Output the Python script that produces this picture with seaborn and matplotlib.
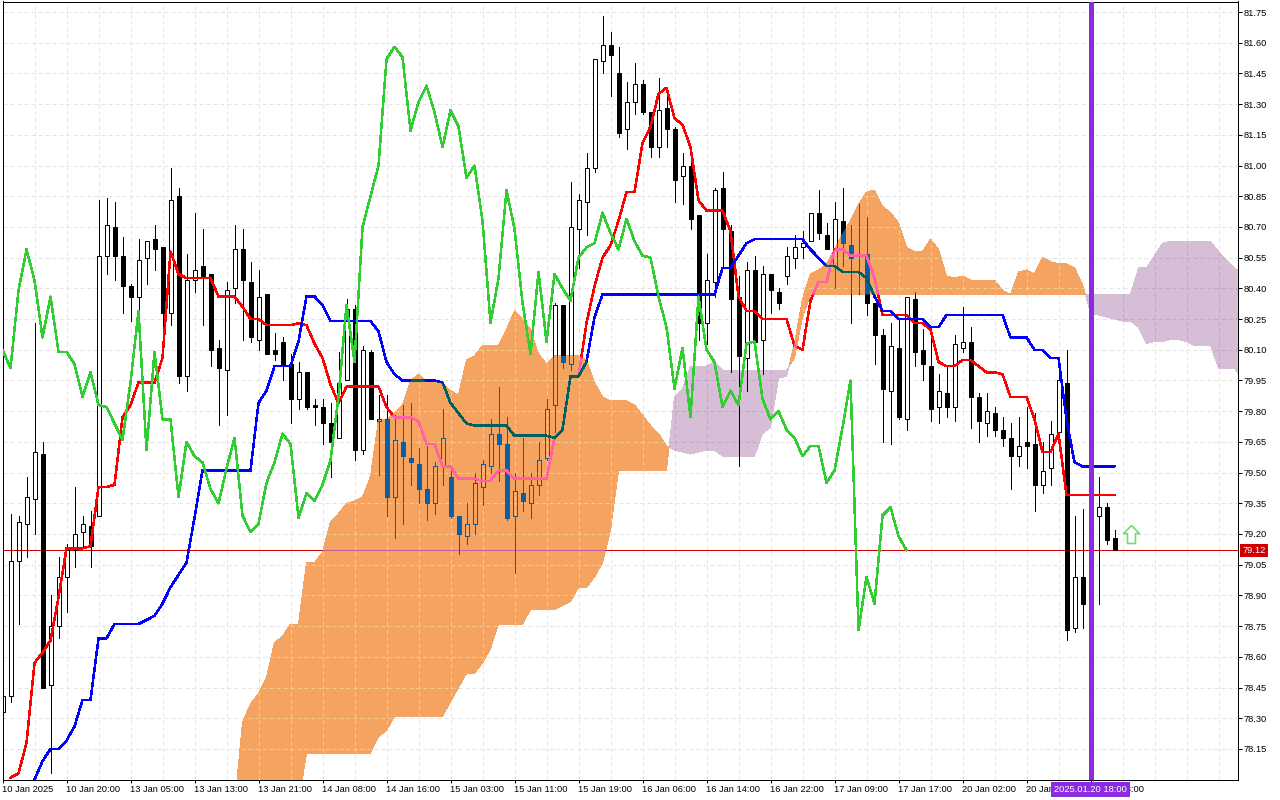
import numpy as np
import matplotlib
matplotlib.use('Agg')
import matplotlib.pyplot as plt
from matplotlib.path import Path
import seaborn as sns

# hourly candles, one bar every 8 px on the reference
opens = [78.33,78.41,79.07,79.25,79.37,79.59,78.46,78.75,78.99,79.12,
         79.21,79.24,79.29,80.56,80.70,80.56,80.41,80.36,80.55,80.64,
         80.60,80.28,80.85,79.97,80.44,80.51,80.47,80.11,80.00,80.40,
         80.59,80.43,80.15,80.37,80.10,80.14,80.03,79.86,79.99,79.83,
         79.82,79.74,79.67,79.95,80.30,79.61,80.09,79.75,79.76,79.38,
         79.65,79.57,79.54,79.42,79.35,79.53,79.48,79.29,79.19,79.25,
         79.43,79.53,79.69,79.64,79.29,79.40,79.35,79.44,79.57,79.83,
         80.32,80.03,80.69,80.82,80.99,81.51,81.59,81.45,81.18,81.31,
         81.40,81.26,81.09,81.28,81.18,80.95,81.00,80.76,80.23,80.43,
         80.89,80.68,80.36,80.06,80.49,80.15,80.47,80.38,80.46,80.55,
         80.60,80.63,80.77,80.66,80.51,80.73,80.61,80.56,80.57,80.33,
         80.17,79.90,80.11,79.76,80.35,80.10,80.02,79.82,79.89,79.82,
         80.11,80.14,79.87,79.74,79.79,79.71,79.67,79.58,79.65,79.64,
         79.44,79.52,79.70,79.94,78.74,78.99,78.86,79.29,79.33,79.18]
closes = [78.41,79.07,79.26,79.38,79.60,78.45,78.75,78.99,79.12,79.20,
          79.25,79.14,80.56,80.71,80.56,80.41,80.36,80.54,80.63,80.59,
          80.28,80.83,79.97,80.44,80.49,80.46,80.10,80.01,80.39,80.59,
          80.44,80.16,80.36,80.08,80.08,80.02,79.86,79.99,79.82,79.82,
          79.74,79.65,79.94,80.30,79.61,80.10,79.76,79.76,79.38,79.66,
          79.58,79.55,79.42,79.35,79.53,79.67,79.29,79.20,79.25,79.45,
          79.54,79.69,79.64,79.28,79.41,79.36,79.44,79.56,79.81,80.32,
          80.04,80.70,80.83,80.99,81.52,81.59,81.54,81.16,81.31,81.40,
          81.26,81.09,81.27,81.18,80.93,81.00,80.74,80.23,80.44,80.88,
          80.69,80.35,80.07,80.49,80.14,80.47,80.39,80.33,80.56,80.60,
          80.62,80.77,80.67,80.59,80.74,80.62,80.55,80.57,80.33,80.17,
          79.91,80.12,79.77,80.36,80.09,80.03,79.81,79.90,79.82,80.13,
          80.14,79.87,79.75,79.80,79.71,79.67,79.58,79.63,79.63,79.44,
          79.51,79.69,79.95,78.73,78.99,78.86,79.33,79.33,79.17,79.12]
highs = [78.49,79.30,79.29,79.48,80.23,79.65,78.90,79.09,79.15,79.43,
         79.29,79.31,80.83,80.84,80.82,80.65,80.42,80.64,80.63,80.71,
         80.60,80.99,80.89,80.57,80.77,80.69,80.47,80.15,80.43,80.71,
         80.69,80.53,80.49,80.37,80.18,80.16,80.08,80.04,79.99,79.86,
         79.86,79.84,80.09,80.35,80.32,80.12,80.10,79.88,79.88,79.78,
         79.83,79.84,79.62,79.63,79.55,79.81,79.53,79.29,79.35,79.50,
         79.56,79.76,79.92,79.77,79.50,79.67,79.50,79.65,79.86,80.33,
         80.32,80.92,80.86,81.06,81.52,81.73,81.65,81.58,81.41,81.50,
         81.42,81.26,81.43,81.35,81.19,81.06,81.06,80.76,80.57,80.89,
         80.97,80.71,80.46,80.53,80.56,80.51,80.47,80.40,80.60,80.66,
         80.68,80.77,80.88,80.72,80.82,80.89,80.71,80.81,80.75,80.33,
         80.20,80.23,80.25,80.36,80.38,80.20,80.20,79.98,80.02,80.17,
         80.31,80.21,79.89,79.89,79.82,79.77,79.74,79.77,79.82,79.79,
         79.65,79.75,80.02,80.10,79.29,79.32,79.34,79.48,79.35,79.22]
lows = [78.33,78.38,78.76,79.09,79.20,78.45,78.03,78.69,78.82,79.04,
        79.14,79.04,79.29,80.47,80.44,80.28,80.24,80.23,80.42,80.49,
        80.17,80.22,79.94,79.90,80.38,80.22,80.02,79.73,79.78,80.33,
        80.15,80.14,80.10,80.08,80.05,79.95,79.74,79.81,79.81,79.73,
        79.64,79.48,79.67,79.95,79.56,79.59,79.76,79.49,79.29,79.18,
        79.25,79.44,79.35,79.27,79.30,79.44,79.28,79.10,79.15,79.20,
        79.34,79.50,79.46,79.27,79.01,79.31,79.28,79.39,79.56,79.70,
        80.01,80.00,80.50,80.66,80.97,81.45,81.34,81.14,81.08,81.25,
        81.25,81.04,81.04,81.09,80.82,80.81,80.69,80.15,80.13,80.36,
        80.50,79.99,79.53,79.90,80.07,79.98,80.28,80.30,80.42,80.50,
        80.55,80.63,80.64,80.59,80.40,80.51,80.23,80.37,80.27,80.03,
        79.65,79.64,79.76,79.71,80.02,79.95,79.75,79.74,79.77,79.75,
        80.09,79.72,79.65,79.68,79.68,79.63,79.42,79.53,79.52,79.31,
        79.40,79.44,79.65,78.68,78.72,78.74,78.86,78.86,79.15,79.12]

# tenkan starts at bar 1, kijun at bar 4
tenkan = [78.01,78.03,78.18,78.57,78.62,78.68,78.89,79.13,79.13,79.13,
          79.14,79.43,79.43,79.44,79.77,79.83,79.94,79.94,79.94,80.06,
          80.58,80.47,80.45,80.45,80.45,80.45,80.36,80.36,80.36,80.31,
          80.25,80.25,80.22,80.22,80.22,80.22,80.23,80.22,80.13,80.06,
          79.93,79.84,79.92,79.92,79.92,79.92,79.92,79.82,79.77,79.77,
          79.77,79.75,79.64,79.64,79.53,79.53,79.47,79.47,79.47,79.46,
          79.46,79.51,79.51,79.47,79.47,79.47,79.47,79.47,79.67,79.71,
          79.97,79.97,80.23,80.41,80.55,80.61,80.73,80.87,80.87,81.11,
          81.19,81.35,81.38,81.23,81.20,81.09,80.83,80.78,80.78,80.78,
          80.68,80.36,80.29,80.29,80.25,80.25,80.25,80.25,80.12,80.10,
          80.34,80.43,80.43,80.59,80.59,80.56,80.56,80.56,80.45,80.27,
          80.27,80.27,80.27,80.23,80.23,80.20,80.04,80.02,80.02,80.05,
          80.05,80.02,79.99,79.99,79.98,79.87,79.87,79.87,79.76,79.60,
          79.60,79.69,79.39,79.39,79.39,79.39,79.39,79.39,79.39]
kijun = [78.00,78.09,78.15,78.15,78.19,78.26,78.39,78.39,78.69,78.69,
         78.76,78.76,78.76,78.76,78.78,78.80,78.86,78.94,79.00,79.06,
         79.28,79.51,79.51,79.51,79.51,79.51,79.51,79.51,79.84,79.90,
         80.02,80.02,80.02,80.14,80.36,80.36,80.32,80.24,80.24,80.24,
         80.24,80.24,80.24,80.19,80.04,79.98,79.95,79.95,79.95,79.95,
         79.95,79.94,79.84,79.79,79.74,79.73,79.73,79.73,79.73,79.73,
         79.68,79.68,79.68,79.68,79.68,79.67,79.71,79.97,79.97,80.04,
         80.26,80.37,80.37,80.37,80.37,80.37,80.37,80.37,80.37,80.37,
         80.37,80.37,80.37,80.37,80.37,80.37,80.50,80.50,80.56,80.62,
         80.64,80.64,80.64,80.64,80.64,80.64,80.64,80.59,80.55,80.51,
         80.51,80.48,80.48,80.48,80.45,80.36,80.29,80.29,80.25,80.25,
         80.25,80.25,80.21,80.21,80.27,80.27,80.27,80.27,80.27,80.27,
         80.27,80.27,80.16,80.16,80.16,80.10,80.10,80.06,80.06,79.76,
         79.55,79.53,79.53,79.53,79.53,79.53]
chikou = [80.10,80.01,80.39,80.59,80.44,80.16,80.36,80.09,80.09,80.03,
          79.87,79.99,79.83,79.82,79.74,79.66,79.94,80.29,79.61,80.09,
          79.76,79.76,79.38,79.65,79.58,79.55,79.42,79.35,79.52,79.67,
          79.29,79.21,79.25,79.45,79.55,79.69,79.64,79.28,79.40,79.36,
          79.44,79.56,79.87,80.32,80.04,80.70,80.85,81.00,81.52,81.58,
          81.53,81.17,81.31,81.39,81.26,81.09,81.27,81.19,80.94,81.00,
          80.73,80.23,80.45,80.88,80.69,80.33,80.08,80.48,80.14,80.47,
          80.40,80.34,80.55,80.60,80.62,80.77,80.67,80.59,80.74,80.63,
          80.56,80.55,80.36,80.21,79.91,80.11,79.77,80.36,80.10,80.04,
          79.82,79.90,79.83,80.13,80.14,79.86,79.76,79.80,79.71,79.67,
          79.58,79.63,79.63,79.45,79.51,79.72,79.95,78.73,78.99,78.86,
          79.29,79.33,79.19,79.12]

# cloud, bars 29 to 155 (runs past the last candle)
span_a = [77.87,78.28,78.37,78.42,78.50,78.67,78.70,78.76,78.76,79.06,
          79.06,79.11,79.26,79.30,79.35,79.36,79.38,79.48,79.76,79.76,
          79.79,79.83,79.95,79.98,79.94,79.94,79.94,79.90,79.88,80.05,
          80.07,80.12,80.12,80.12,80.20,80.29,80.25,80.20,80.08,80.03,
          80.07,80.07,80.07,80.07,80.05,79.94,79.87,79.85,79.85,79.85,
          79.83,79.78,79.73,79.69,79.63,
          79.61,79.60,79.59,79.60,79.61,79.61,79.58,79.58,79.58,79.58,
          79.58,79.69,79.72,79.96,79.97,
          80.13,80.35,80.47,80.49,80.52,80.59,80.67,80.73,80.81,80.87,
          80.88,80.80,80.77,80.72,80.60,80.58,80.58,80.64,80.59,80.46,
          80.45,80.46,80.44,80.44,80.44,80.44,80.39,80.37,80.48,80.49,
          80.47,80.55,80.53,80.52,80.52,80.50,80.42,
          80.28,80.27,80.26,80.25,80.24,80.24,80.21,80.13,80.14,80.14,
          80.15,80.15,80.14,80.12,80.12,80.12,80.01,80.01,80.01,79.95]
span_b = [77.70,77.70,77.70,77.70,77.70,77.70,77.70,77.70,77.88,78.13,
          78.13,78.13,78.13,78.13,78.13,78.13,78.13,78.13,78.21,78.24,
          78.31,78.31,78.31,78.31,78.31,78.31,78.31,78.38,78.45,78.52,
          78.52,78.57,78.64,78.76,78.76,78.76,78.76,78.83,78.83,78.83,
          78.83,78.85,78.87,78.94,78.94,78.99,79.06,79.22,79.51,79.51,
          79.51,79.51,79.51,79.51,79.51,
          79.87,79.91,80.02,80.02,80.02,80.04,80.00,80.00,80.00,80.00,
          80.00,80.00,80.00,80.00,80.00,
          80.06,80.26,80.37,80.37,80.37,80.37,80.37,80.37,80.37,80.37,
          80.37,80.37,80.37,80.37,80.37,80.37,80.37,80.37,80.37,80.37,
          80.37,80.37,80.37,80.37,80.37,80.37,80.37,80.37,80.37,80.37,
          80.37,80.37,80.37,80.37,80.37,80.37,80.37,
          80.37,80.37,80.37,80.37,80.37,80.37,80.50,80.50,80.56,80.62,
          80.63,80.63,80.63,80.63,80.63,80.63,80.58,80.54,80.50,80.47]

price_ticks = [78.15,78.30,78.45,78.60,78.75,78.90,79.05,79.20,79.35,79.50,
               79.65,79.80,79.95,80.10,80.25,80.40,80.55,80.70,80.85,81.00,
               81.15,81.30,81.45,81.60,81.75]
time_labels = ['10 Jan 2025','10 Jan 20:00','13 Jan 05:00','13 Jan 13:00','13 Jan 21:00',
               '14 Jan 08:00','14 Jan 16:00','15 Jan 03:00','15 Jan 11:00','15 Jan 19:00',
               '16 Jan 06:00','16 Jan 14:00','16 Jan 22:00','17 Jan 09:00','17 Jan 17:00',
               '20 Jan 02:00','20 Jan 10:00','20 Jan 18:00']
time_ticks = list(range(0, 144, 8))
grid_bars = list(range(0, 156, 4))
last_price = 79.12
cursor_bar = 136
cursor_label = '2025.01.20 18:00'
arrow_bar = 141
arrow_price = 79.20

PX = 0.72  # one pixel in points at dpi 100
DASH = (0, (4, 3))

sns.set_theme(style='ticks')
plt.rcParams['font.family'] = ['Liberation Sans', 'DejaVu Sans']

fig = plt.figure(figsize=(12.8, 8), dpi=100)
ax = fig.add_axes([2.5/1280, 1-779.5/800, 1235/1280, 778/800])
ax.set_xlim(0, 154.375)
ax.set_ylim(78.0006, 81.8013)

bars = np.arange(len(opens))
o = np.array(opens)
c = np.array(closes)
h = np.array(highs)
l = np.array(lows)
top = np.maximum(o, c)
bot = np.minimum(o, c)
up = c >= o


def draw_grid(color, z, clip=None):
    arts = []
    for g in grid_bars:
        arts.append(ax.axvline(g, color=color, lw=PX, ls=DASH, zorder=z))
    for t in price_ticks:
        arts.append(ax.axhline(t, color=color, lw=PX, ls=DASH, zorder=z))
    if clip is not None:
        for a in arts:
            a.set_clip_path(clip, transform=ax.transData)


def draw_candles(color, z, clip=None):
    arts = [ax.vlines(bars, top, h, color=color, lw=PX, zorder=z, antialiased=False),
            ax.vlines(bars, l, bot, color=color, lw=PX, zorder=z, antialiased=False)]
    arts += list(ax.bar(bars[up], (top-bot)[up], bottom=bot[up], width=0.5, facecolor='none',
                        edgecolor=color, linewidth=PX, zorder=z))
    arts += list(ax.bar(bars[~up], (top-bot)[~up], bottom=bot[~up], width=0.5, facecolor=color,
                        edgecolor=color, linewidth=PX, zorder=z))
    if clip is not None:
        for a in arts:
            a.set_clip_path(clip, transform=ax.transData)


draw_grid('#e4e4e4', 0.5)
# white candles hide the grid but not the cloud
ax.bar(bars[up], (top-bot)[up], bottom=bot[up], width=0.5, color='white', linewidth=0, zorder=1)

# cloud
cx = np.arange(29, 29+len(span_a))
sa = np.array(span_a)
sb = np.array(span_b)
orange = ax.fill_between(cx, sa, sb, where=sa >= sb, interpolate=True, color='#f4a460',
                         linewidth=0, antialiased=False, zorder=1.5)
purple = ax.fill_between(cx, sa, sb, where=sa <= sb, interpolate=True, color='#d6bed6',
                         linewidth=0, antialiased=False, zorder=1.5)
orange_clip = Path.make_compound_path(*orange.get_paths())
purple_clip = Path.make_compound_path(*purple.get_paths())
draw_grid('#f4cb8c', 1.6, orange_clip)
draw_grid('#c2a8c6', 1.6, purple_clip)

# last price line sits under the candles
ax.axhline(last_price, color='#d40000', lw=PX, zorder=1.7)
pl = ax.axhline(last_price, color='#c460a4', lw=PX, zorder=1.8)
pl.set_clip_path(orange_clip, transform=ax.transData)

draw_candles('black', 3)
draw_candles('#0b5fa5', 3.1, orange_clip)

line_kw = dict(ax=ax, linewidth=1.5*PX, antialiased=False, errorbar=None, legend=False)
tx = np.arange(1, 1+len(tenkan))
kx = np.arange(4, 4+len(kijun))
gx = np.arange(len(chikou))

sns.lineplot(x=tx, y=tenkan, color='#ff0000', zorder=4, **line_kw)
sns.lineplot(x=tx, y=tenkan, color='#ff60a8', zorder=4.1, **line_kw)
ax.lines[-1].set_clip_path(orange_clip, transform=ax.transData)
sns.lineplot(x=kx, y=kijun, color='#0000ff', zorder=4.2, **line_kw)
sns.lineplot(x=kx, y=kijun, color='#006060', zorder=4.3, **line_kw)
ax.lines[-1].set_clip_path(orange_clip, transform=ax.transData)
sns.lineplot(x=gx, y=chikou, color='#32cd32', zorder=4.4, **line_kw)

# buy arrow
arrow = Path([(0, 1), (-0.89, 0.1), (-0.44, 0.1), (-0.44, -1), (0.44, -1), (0.44, 0.1), (0.89, 0.1), (0, 1)])
ax.plot([arrow_bar], [arrow_price], marker=arrow, ms=18*PX, mfc='white', mec='#66e066', mew=1.6*PX,
        ls='none', zorder=4.5)

# cursor
ax.axvline(cursor_bar, color='#8a2be2', lw=5*PX, zorder=5)

ax.yaxis.tick_right()
ax.set_yticks(price_ticks)
ax.set_yticklabels([f'{t:.2f}' for t in price_ticks])
ax.set_xticks(time_ticks)
ax.set_xticklabels(time_labels, ha='left')
ax.tick_params(axis='y', length=4*PX, width=PX, pad=1.2, labelsize=6.7, colors='black')
ax.tick_params(axis='x', length=3*PX, width=PX, pad=1.6, labelsize=6.7, colors='black')
for s in ax.spines.values():
    s.set_linewidth(PX)
    s.set_color('black')

ax.text(cursor_bar, -0.0125, cursor_label, transform=ax.get_xaxis_transform(), ha='center', va='center',
        fontsize=6.7, color='white', zorder=6, clip_on=False,
        bbox=dict(boxstyle='square,pad=0.3', fc='#8a2be2', ec='none'))
ax.text(1.004, last_price, f'{last_price:.2f}', transform=ax.get_yaxis_transform(), ha='left', va='center',
        fontsize=6.7, color='white', zorder=6, clip_on=False,
        bbox=dict(boxstyle='square,pad=0.25', fc='#cc0000', ec='none'))

fig.savefig('out.png', dpi=100)
